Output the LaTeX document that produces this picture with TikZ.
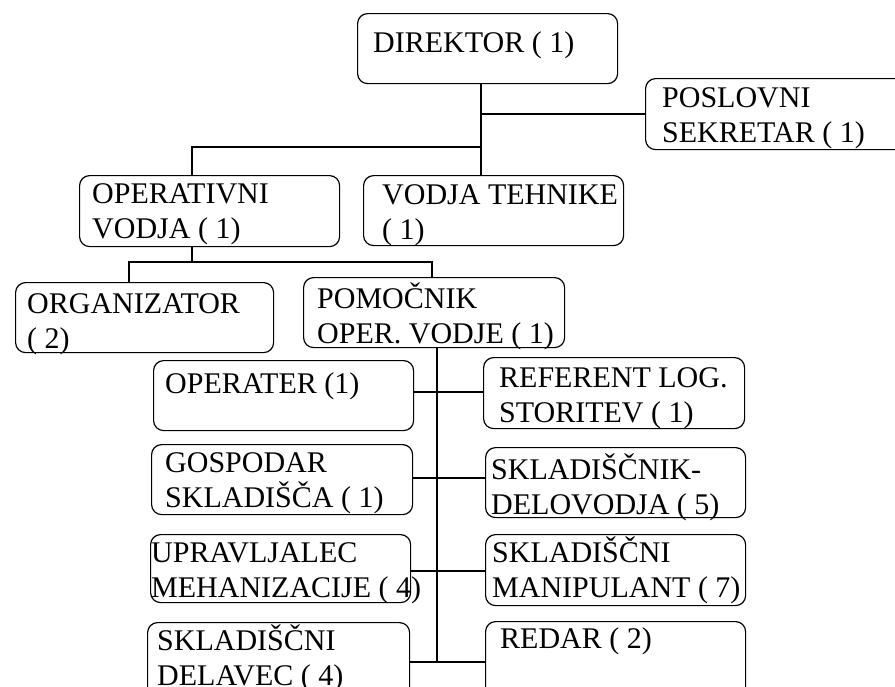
\documentclass[tikz,border=0pt]{standalone}
\usepackage{fontspec}
\setmainfont{Liberation Serif}
\begin{document}
\begin{tikzpicture}[x=1pt,y=-1pt,
  box/.style={draw, line width=1.2pt, rounded corners=10pt, anchor=north west, inner sep=0pt},
  lbl/.style={anchor=north west, inner sep=0pt, align=left, font=\fontsize{30}{35}\selectfont},
  link/.style={line width=1.2pt}]
\clip (0,0) rectangle (895,686);
\fill[white] (0,0) rectangle (895,686);
\newcommand{\fl}{\rule{0pt}{28pt}}

% boxes
\node[box, minimum width=260pt, minimum height=70pt] (dir) at (357,13) {};
\node[box, minimum width=270pt, minimum height=71pt] (sek) at (645,78) {};
\node[box, minimum width=260pt, minimum height=71pt] (op)  at (79,175) {};
\node[box, minimum width=260pt, minimum height=70pt] (vt)  at (363,175) {};
\node[box, minimum width=258pt, minimum height=70pt] (org) at (15,282) {};
\node[box, minimum width=261pt, minimum height=70pt] (pom) at (303,277) {};
\node[box, minimum width=260pt, minimum height=70pt] (opr) at (153,360) {};
\node[box, minimum width=261pt, minimum height=71pt] (ref) at (483,357) {};
\node[box, minimum width=261pt, minimum height=70pt] (gos) at (151,444) {};
\node[box, minimum width=260pt, minimum height=70pt] (skd) at (485,447) {};
\node[box, minimum width=260pt, minimum height=68pt] (upr) at (150,534) {};
\node[box, minimum width=260pt, minimum height=71pt] (man) at (485,534) {};
\node[box, minimum width=262pt, minimum height=80pt] (del) at (147,622) {};
\node[box, minimum width=260pt, minimum height=80pt] (red) at (485,621) {};

% labels (first baseline 28pt below the node top)
\node[lbl] (dir-t) at (373,24)  {\fl DIREKTOR ( 1)};
\node[lbl] (sek-t) at (662,79)  {\fl POSLOVNI\\SEKRETAR ( 1)};
\node[lbl] (op-t)  at (92,175)  {\fl OPERATIVNI\\VODJA ( 1)};
\node[lbl] (vt-t)  at (382,176) {\fl VODJA TEHNIKE\\( 1)};
\node[lbl] (org-t) at (27,285)  {\fl ORGANIZATOR\\( 2)};
\node[lbl] (pom-t) at (317,280) {\fl POMOČNIK\\OPER. VODJE ( 1)};
\node[lbl] (opr-t) at (165,365) {\fl OPERATER (1)};
\node[lbl] (ref-t) at (499,359) {\fl REFERENT LOG.\\STORITEV ( 1)};
\node[lbl] (gos-t) at (165,444) {\fl GOSPODAR\\SKLADIŠČA ( 1)};
\node[lbl] (skd-t) at (491,451) {\fl SKLADIŠČNIK-\\DELOVODJA ( 5)};
\node[lbl] (upr-t) at (151,534) {\fl UPRAVLJALEC\\MEHANIZACIJE ( 4)};
\node[lbl] (man-t) at (492,534) {\fl SKLADIŠČNI\\MANIPULANT ( 7)};
\node[lbl] (del-t) at (157,622) {\fl SKLADIŠČNI\\DELAVEC ( 4)};
\node[lbl] (red-t) at (500,620) {\fl REDAR ( 2)};

% junction points of the connector lines
\coordinate (t1)  at (481,0);
\coordinate (h1)  at (481,114);
\coordinate (h2)  at (481,147);
\coordinate (h2l) at (192,147);
\coordinate (v2)  at (192,262);
\coordinate (v2l) at (129,262);
\coordinate (v2r) at (432,262);
\coordinate (t3)  at (437,0);
\coordinate (r1)  at (437,392);
\coordinate (r2)  at (437,478);
\coordinate (r3)  at (437,571);
\coordinate (r4)  at (437,662);

% top level
\draw[link] (dir.south -| t1) -- (vt.north -| t1);
\draw[link] (h1) -- (sek.west |- h1);
\draw[link] (h2) -- (h2l) -- (op.north -| h2l);
% under the operative lead
\draw[link] (op.south -| v2) -- (v2);
\draw[link] (org.north -| v2l) -- (v2l) -- (v2r) -- (pom.north -| v2r);
% under the assistant
\draw[link] (pom.south -| t3) -- (r4);
\draw[link] (opr.east |- r1) -- (ref.west |- r1);
\draw[link] (gos.east |- r2) -- (skd.west |- r2);
\draw[link] (upr.east |- r3) -- (man.west |- r3);
\draw[link] (del.east |- r4) -- (red.west |- r4);
\end{tikzpicture}
\end{document}
